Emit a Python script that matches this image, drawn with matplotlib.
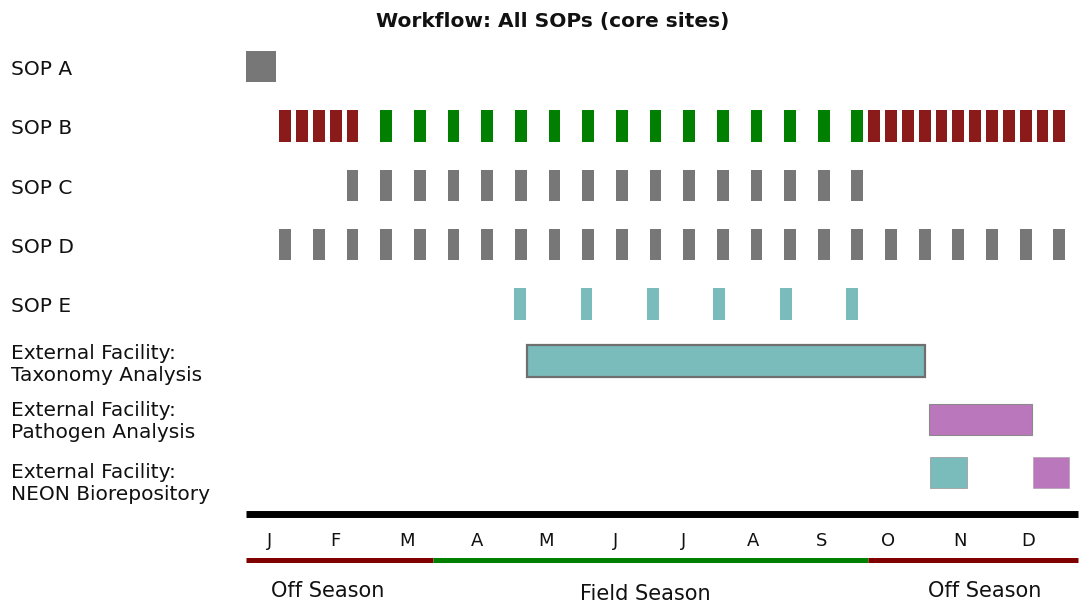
import matplotlib.pyplot as plt

# x axis in weeks of the year, y axis in row units (0 = SOP A)
row_labels = ['SOP A', 'SOP B', 'SOP C', 'SOP D', 'SOP E',
              'External Facility:\nTaxonomy Analysis',
              'External Facility:\nPathogen Analysis',
              'External Facility:\nNEON Biorepository']

sop_a = [(0.0, 1.8)]
sop_b_off_early = [2, 3, 4, 5, 6]
sop_b_field = [8, 10, 12, 14, 16, 18, 20, 22, 24, 26, 28, 30, 32, 34, 36]
sop_b_off_late = [37, 38, 39, 40, 41, 42, 43, 44, 45, 46, 47, 48]
sop_c = [6, 8, 10, 12, 14, 16, 18, 20, 22, 24, 26, 28, 30, 32, 34, 36]
sop_d = [2, 4, 6, 8, 10, 12, 14, 16, 18, 20, 22, 24,
         26, 28, 30, 32, 34, 36, 38, 40, 42, 44, 46, 48]
sop_e = [15.95, 19.9, 23.85, 27.8, 31.75, 35.7]
taxonomy = (16.7, 40.37)
pathogen = (40.62, 46.73)
neon_taxonomy = (40.67, 42.88)
neon_pathogen = (46.81, 48.93)

months = ['J', 'F', 'M', 'A', 'M', 'J', 'J', 'A', 'S', 'O', 'N', 'D']
month_pos = [1.41, 5.36, 9.57, 13.73, 17.84, 21.97, 26.02, 30.15, 34.22, 38.19, 42.43, 46.51]

seasons = ['Off Season', 'Field Season', 'Off Season']
season_start = [0.02, 11.15, 36.96]
season_end = [11.15, 36.96, 49.46]

# layout
bar_rows = [0, 1, 2, 3, 4, 4.956, 5.94, 6.835]
label_base = [0.143, 1.14, 2.14, 3.14, 4.14, 5.30, 6.26, 7.30]  # baseline of last line
season_text_x = [4.87, 23.76, 43.93]
season_text_y = [8.93, 8.98, 8.93]
h = 0.53
w = 0.7

gray = '#777777'
red = '#8b1a1a'
green = '#007f00'
teal = '#7abcbb'
purple = '#bb77bb'

fig = plt.figure(figsize=(10.79, 6.03), dpi=100)
ax = fig.add_axes([0, 0, 1, 1])
ax.set_xlim(-14.593, 49.518)
ax.set_ylim(9.032, -1.1195)
ax.axis('off')

ax.barh(bar_rows[0], [s[1] for s in sop_a], left=[s[0] for s in sop_a], height=h,
        color=gray, align='center')
ax.barh([bar_rows[1]] * len(sop_b_off_early), w, left=sop_b_off_early, height=h, color=red)
ax.barh([bar_rows[1]] * len(sop_b_field), w, left=sop_b_field, height=h, color=green)
ax.barh([bar_rows[1]] * len(sop_b_off_late), w, left=sop_b_off_late, height=h, color=red)
ax.barh([bar_rows[2]] * len(sop_c), w, left=sop_c, height=h, color=gray)
ax.barh([bar_rows[3]] * len(sop_d), w, left=sop_d, height=h, color=gray)
ax.barh([bar_rows[4]] * len(sop_e), w, left=sop_e, height=h, color=teal)

ax.barh(bar_rows[5], taxonomy[1] - taxonomy[0], left=taxonomy[0], height=h,
        color=teal, edgecolor='#6f6f6f', linewidth=1.6)
ax.barh(bar_rows[6], pathogen[1] - pathogen[0], left=pathogen[0], height=h,
        color=purple, edgecolor='#8a8a8a', linewidth=0.8)
ax.barh(bar_rows[7], neon_taxonomy[1] - neon_taxonomy[0], left=neon_taxonomy[0], height=h,
        color=teal, edgecolor='#a0a0a0', linewidth=0.6)
ax.barh(bar_rows[7], neon_pathogen[1] - neon_pathogen[0], left=neon_pathogen[0], height=h,
        color=purple, edgecolor='#b0a0b0', linewidth=0.5)

for lab, yb in zip(row_labels, label_base):
    ax.text(-13.94, yb, lab, fontsize=14.5, color='#111111', ha='left', va='baseline',
            linespacing=1.22)

ax.text(18.26, -0.67, 'Workflow: All SOPs (core sites)', fontsize=14.5, fontweight='bold',
        ha='center', va='baseline', color='#111111')

# time axis
ax.plot([0.02, 49.46], [7.534, 7.534], color='black', lw=5, solid_capstyle='butt')
for m, x in zip(months, month_pos):
    ax.text(x, 8.07, m, fontsize=13, ha='center', va='baseline', color='#111111')

season_cols = ['#800000', '#008000', '#800000']
for s0, s1, c in zip(season_start, season_end, season_cols):
    ax.plot([s0, s1], [8.30, 8.30], color=c, lw=3.6, solid_capstyle='butt')
for s, x, y in zip(seasons, season_text_x, season_text_y):
    ax.text(x, y, s, fontsize=15, ha='center', va='baseline', color='#111111')

fig.savefig('out.png', dpi=100)
